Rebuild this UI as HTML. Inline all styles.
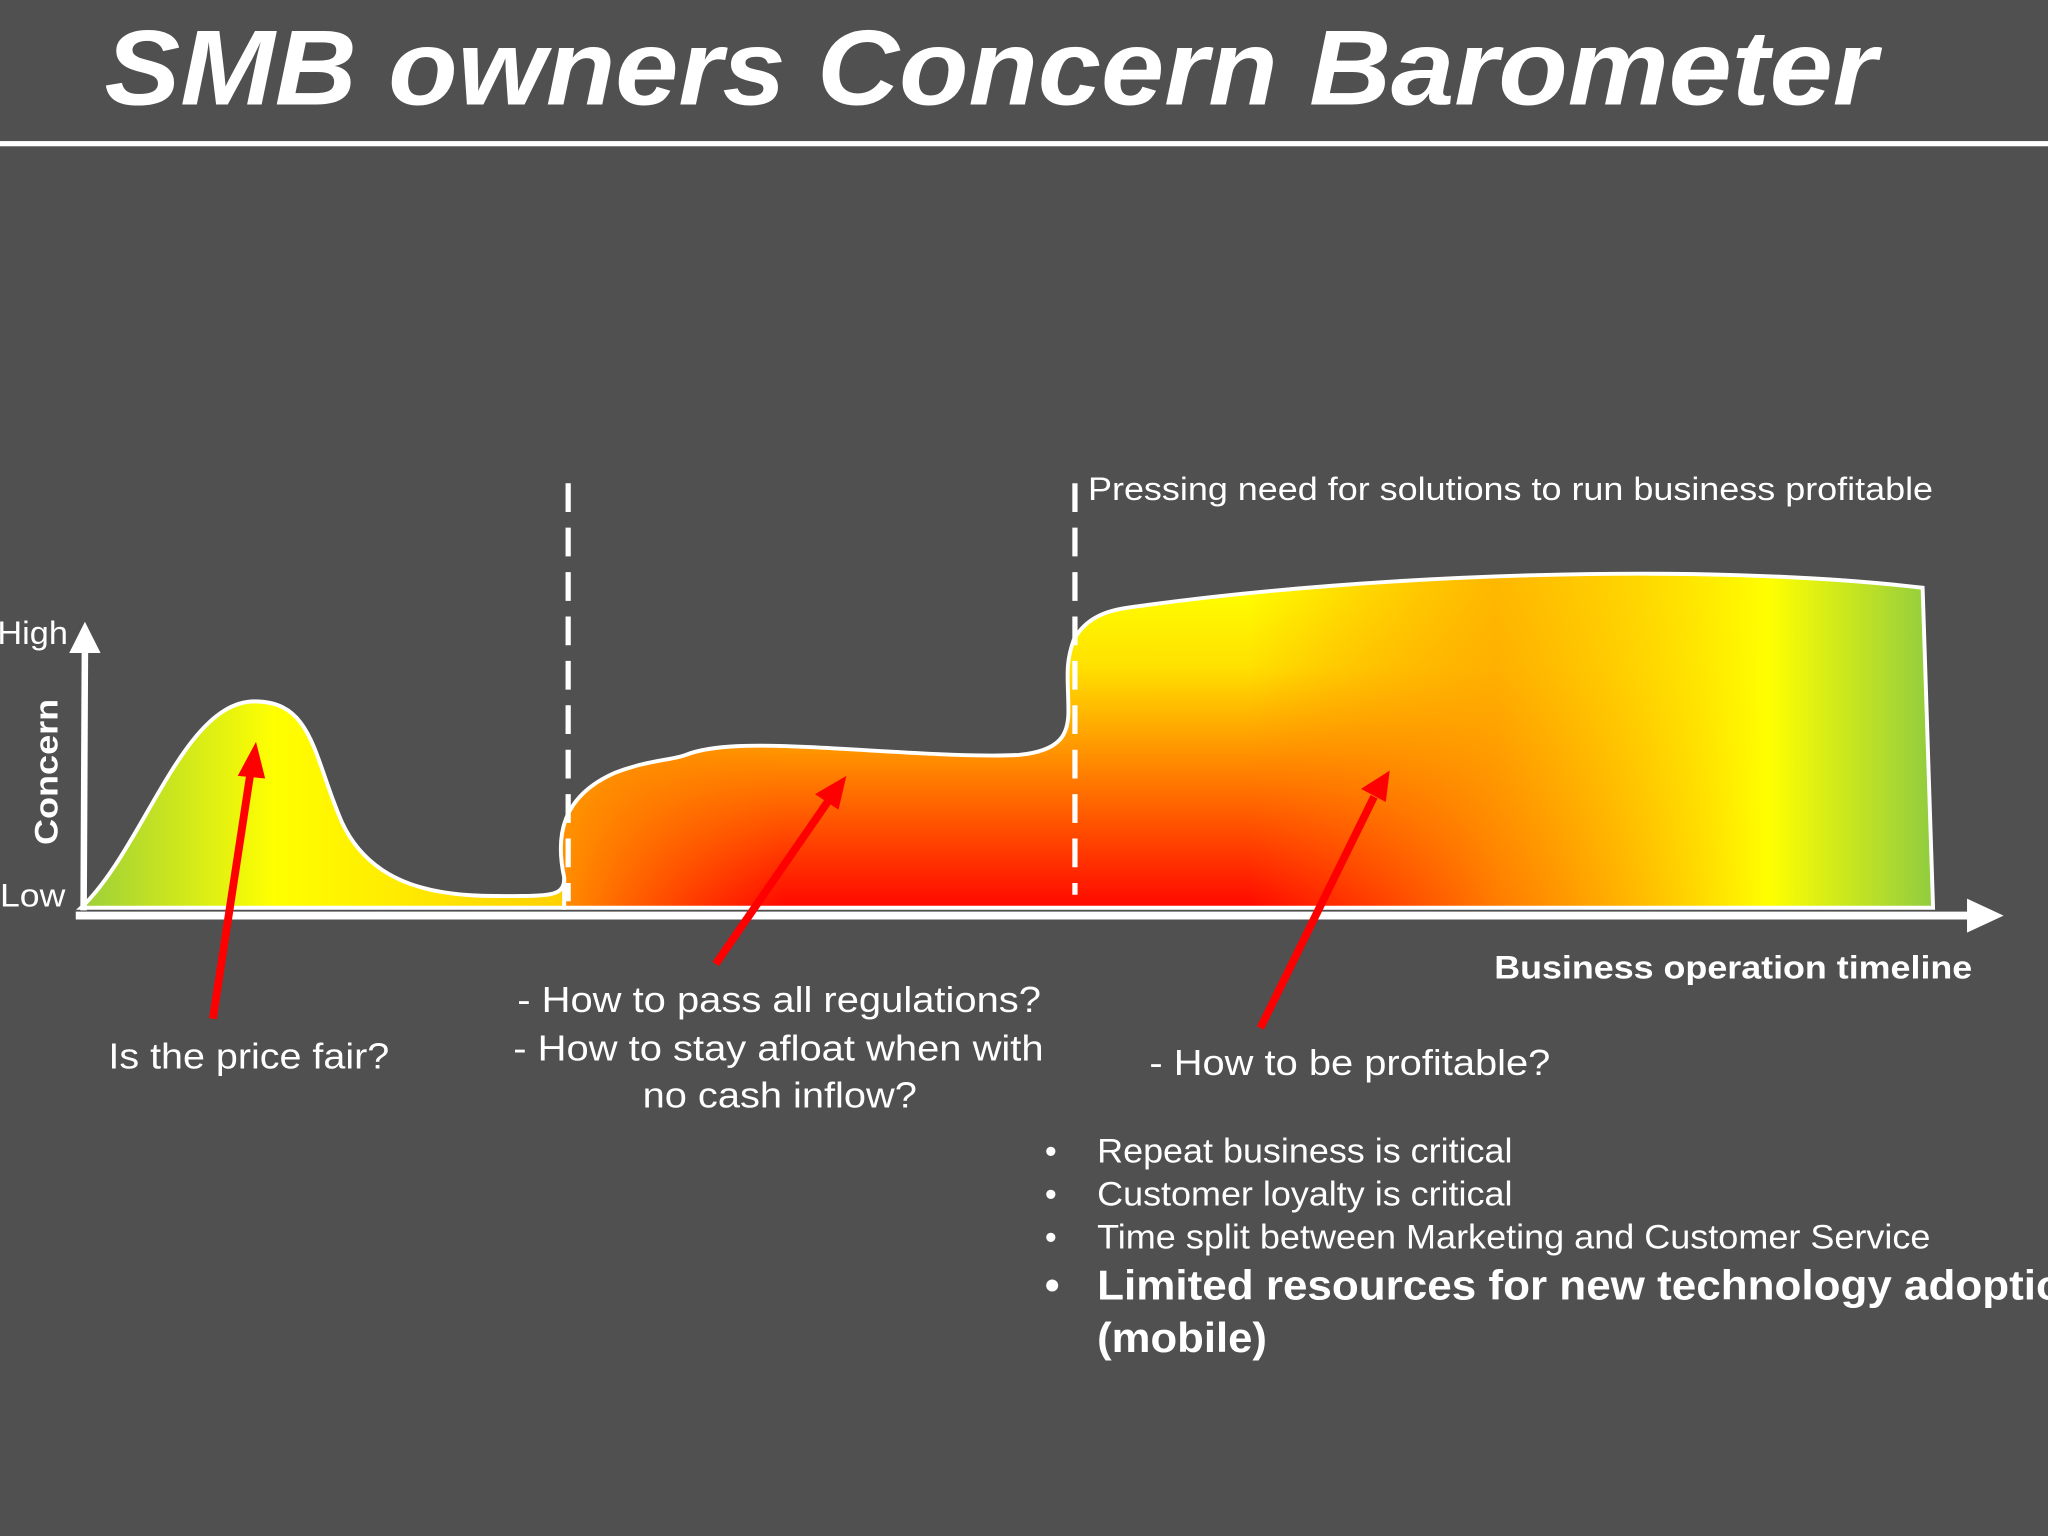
<!DOCTYPE html>
<html><head><meta charset="utf-8"><style>
html,body{margin:0;padding:0;background:#505050;}
svg{display:block;}
text{font-family:"Liberation Sans",sans-serif;fill:#fff;}
</style></head><body>
<svg width="2048" height="1536" viewBox="0 0 1568 1176" xmlns="http://www.w3.org/2000/svg">
<defs>
<linearGradient id="g1" x1="62" y1="0" x2="432" y2="0" gradientUnits="userSpaceOnUse">
<stop offset="0" stop-color="#9ccf3a"/>
<stop offset="0.4" stop-color="#ffff00"/>
<stop offset="1" stop-color="#ffd000"/>
</linearGradient>
<linearGradient id="gv" x1="0" y1="450" x2="0" y2="695" gradientUnits="userSpaceOnUse">
<stop offset="0" stop-color="#ffff00"/>
<stop offset="0.25" stop-color="#ffe000"/>
<stop offset="0.6" stop-color="#ff7a00"/>
<stop offset="1" stop-color="#ff0800"/>
</linearGradient>
<linearGradient id="gh" x1="432" y1="0" x2="1480" y2="0" gradientUnits="userSpaceOnUse">
<stop offset="0" stop-color="#ff9a00" stop-opacity="0.9"/>
<stop offset="0.16" stop-color="#ff8000" stop-opacity="0"/>
<stop offset="0.5" stop-color="#ff8000" stop-opacity="0"/>
<stop offset="0.68" stop-color="#ffa000" stop-opacity="0.75"/>
<stop offset="0.88" stop-color="#ffff00" stop-opacity="1"/>
<stop offset="1" stop-color="#90cc40" stop-opacity="1"/>
</linearGradient>
<path id="sh" d="M432,695 L432,672 C425,640 430,610 470,592 C495,582 515,582 525,578 C545,570 580,570 620,572 C680,575 740,580 780,578 C812,575 818,562 818,545 C818,520 815,510 822,490 C835,466 860,466 880,463 C1050,440 1300,430 1472,450 L1480,695 Z"/>
</defs>
<rect width="1568" height="1176" fill="#505050"/>
<text x="80" y="80" font-size="82" font-weight="bold" font-style="italic" textLength="1357" lengthAdjust="spacingAndGlyphs">SMB owners Concern Barometer</text>
<rect x="0" y="108" width="1568" height="4" fill="#fff"/>

<path d="M62,695 C110,650 140,537 195,537 C240,537 240,580 262,630 C290,690 360,686 400,686 C425,686 432,684 432,672 L432,695 Z" fill="url(#g1)" stroke="#fff" stroke-width="3"/>
<use href="#sh" fill="url(#gv)"/>
<use href="#sh" fill="url(#gh)" stroke="#fff" stroke-width="3"/>

<line x1="435" y1="370" x2="435" y2="690" stroke="#fff" stroke-width="4" stroke-dasharray="22,12"/>
<line x1="823" y1="370" x2="823" y2="685" stroke="#fff" stroke-width="4" stroke-dasharray="22,12"/>

<line x1="64" y1="697" x2="65" y2="498" stroke="#fff" stroke-width="5"/>
<polygon points="65,476 53,500 77,500" fill="#fff"/>
<line x1="58" y1="701" x2="1510" y2="701" stroke="#fff" stroke-width="6"/>
<polygon points="1534,701 1506,688 1506,714" fill="#fff"/>

<text x="-2" y="493" font-size="25" textLength="54" lengthAdjust="spacingAndGlyphs">High</text>
<text x="0" y="694" font-size="25" textLength="50" lengthAdjust="spacingAndGlyphs">Low</text>
<text transform="translate(44 647) rotate(-90)" font-size="25" font-weight="bold" textLength="112" lengthAdjust="spacingAndGlyphs">Concern</text>

<g stroke="#ff0000" stroke-width="6" fill="#ff0000">
<line x1="163" y1="780" x2="192" y2="590"/>
<polygon points="196,568 182,594 203,596" stroke="none"/>
<line x1="548" y1="738" x2="635" y2="612"/>
<polygon points="648,594 624,608 642,620" stroke="none"/>
<line x1="965" y1="787" x2="1052" y2="610"/>
<polygon points="1064,590 1042,604 1061,614" stroke="none"/>
</g>

<text x="833" y="383" font-size="25" textLength="647" lengthAdjust="spacingAndGlyphs">Pressing need for solutions to run business profitable</text>
<text x="1144" y="749" font-size="25" font-weight="bold" textLength="366" lengthAdjust="spacingAndGlyphs">Business operation timeline</text>
<text x="83" y="818" font-size="28" textLength="215" lengthAdjust="spacingAndGlyphs">Is the price fair?</text>
<text x="396" y="775" font-size="28" textLength="401" lengthAdjust="spacingAndGlyphs">- How to pass all regulations?</text>
<text x="393" y="812" font-size="28" textLength="406" lengthAdjust="spacingAndGlyphs">- How to stay afloat when with</text>
<text x="492" y="848" font-size="28" textLength="210" lengthAdjust="spacingAndGlyphs">no cash inflow?</text>
<text x="880" y="823" font-size="28" textLength="307" lengthAdjust="spacingAndGlyphs">- How to be profitable?</text>
<g font-size="26">
<text x="800" y="890">•</text><text x="840" y="890" textLength="318" lengthAdjust="spacingAndGlyphs">Repeat business is critical</text>
<text x="800" y="923">•</text><text x="840" y="923" textLength="318" lengthAdjust="spacingAndGlyphs">Customer loyalty is critical</text>
<text x="800" y="956">•</text><text x="840" y="956" textLength="638" lengthAdjust="spacingAndGlyphs">Time split between Marketing and Customer Service</text>
</g>
<g font-size="32" font-weight="bold">
<text x="800" y="995">•</text><text x="840" y="995" textLength="760" lengthAdjust="spacingAndGlyphs">Limited resources for new technology adoption</text>
<text x="840" y="1035" textLength="130" lengthAdjust="spacingAndGlyphs">(mobile)</text>
</g>
</svg>
</body></html>
